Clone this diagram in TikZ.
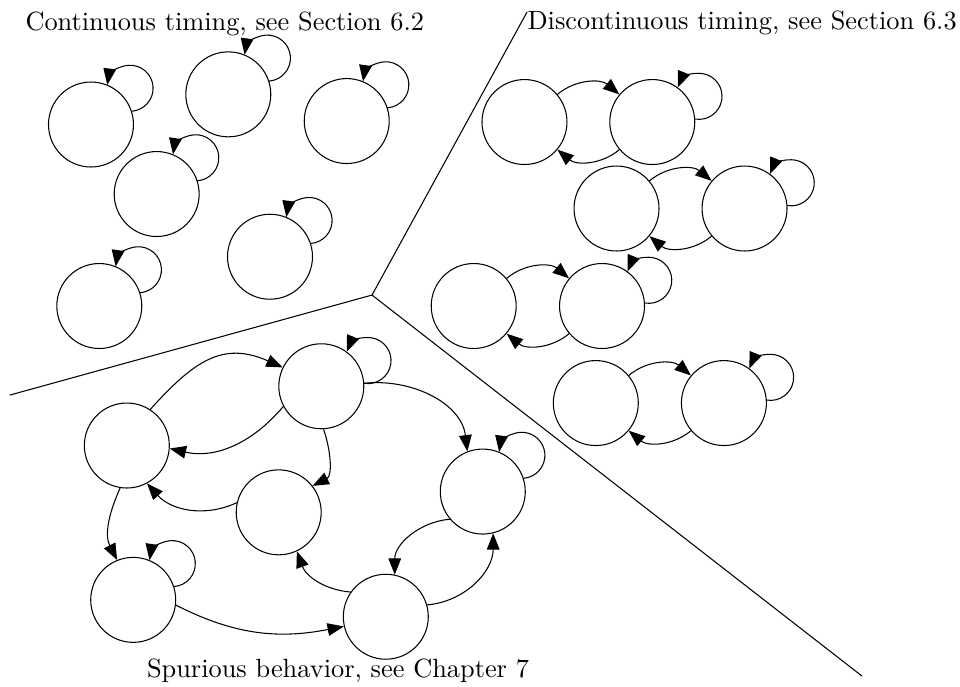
\documentclass[tikz,border=0pt]{standalone}
\usetikzlibrary{arrows.meta}
\begin{document}
\begin{tikzpicture}[line join=round,line cap=round,scale=1,
	>={Triangle[length=6.2pt,width=4.8pt]},
	state/.style={draw,circle,inner sep=0pt,minimum size=1.133cm}]
	\useasboundingbox (0,0) rectangle (12.8,9.147);
	
	% the three regions
	\coordinate (J) at (4.960,5.213);
	\coordinate (T) at (7.027,8.987);
	\coordinate (L) at (0.133,3.880);
	\coordinate (R) at (11.493,0.133);
	\draw (J)--(T) (J)--(L) (J)--(R);
	
	\node[anchor=base west,inner sep=0pt] (tc) at (0.333,8.747) {Continuous timing, see Section 6.2};
	\node[anchor=base west,inner sep=0pt] (td) at (7.027,8.756) {Discontinuous timing, see Section 6.3};
	\node[anchor=base west,inner sep=0pt] (ts) at (1.953,0.113) {Spurious behavior, see Chapter 7};
	
	% continuous
	\node[state] (c1) at (1.213,7.487) {};
	\node[state] (c2) at (3.044,7.889) {};
	\node[state] (c3) at (4.623,7.533) {};
	\node[state] (c4) at (2.089,6.560) {};
	\node[state] (c5) at (3.600,5.724) {};
	\node[state] (c6) at (1.324,5.067) {};
	
	% discontinuous
	\node[state] (d1a) at (6.993,7.520) {};
	\node[state] (d1b) at (8.697,7.520) {};
	\node[state] (d2a) at (8.220,6.367) {};
	\node[state] (d2b) at (9.927,6.367) {};
	\node[state] (d3a) at (6.316,5.067) {};
	\node[state] (d3b) at (8.027,5.067) {};
	\node[state] (d4a) at (7.944,3.773) {};
	\node[state] (d4b) at (9.652,3.773) {};
	\foreach \a/\b in {d1a/d1b,d2a/d2b,d3a/d3b,d4a/d4b}{
		\draw[->] (\a) to[bend left=40] (\b);
		\draw[->] (\b) to[bend left=40] (\a);
	}
	
	% spurious
	\node[state] (s1) at (1.691,3.207) {};
	\node[state] (s2) at (4.284,3.997) {};
	\node[state] (s3) at (3.716,2.316) {};
	\node[state] (s4) at (6.437,2.593) {};
	\node[state] (s5) at (1.776,1.149) {};
	\node[state] (s6) at (5.144,0.924) {};
	\draw[->] (s1.57) to[out=48,in=156,looseness=1.2] (s2.154);
	\draw[->] (s2.208) to[out=230,in=-13] (s1.-4);
	\draw[->] (s2.-87) to[out=-71,in=27] (s3.38);
	\draw[->] (s3.167) to[out=205,in=-48] (s1.-62);
	\draw[->] (s1.-99) to[out=246,in=117] (s5.112);
	\draw[->] (s5.-7) to[out=-27,in=191] (s6.193);
	\draw[->] (s6.145) to[out=175,in=-70] (s3.-65);
	\draw[->] (s4.220) to[out=185,in=90] (s6.78);
	\draw[->] (s6.16) to[out=5,in=-90] (s4.-76);
	\draw[->] (s2.4) to[out=6,in=97] (s4.111);
	
	% self loops
	\foreach \n in {c1,c2,c3,c4,c5,c6,s4,s5}
		\draw[->] (\n.18) arc[start angle=-85.5,delta angle=257,radius=0.307cm];
	\foreach \n in {d1b,d2b,d3b,d4b,s2}
		\draw[->] (\n.4) arc[start angle=-99.5,delta angle=257,radius=0.307cm];
\end{tikzpicture}
\end{document}
